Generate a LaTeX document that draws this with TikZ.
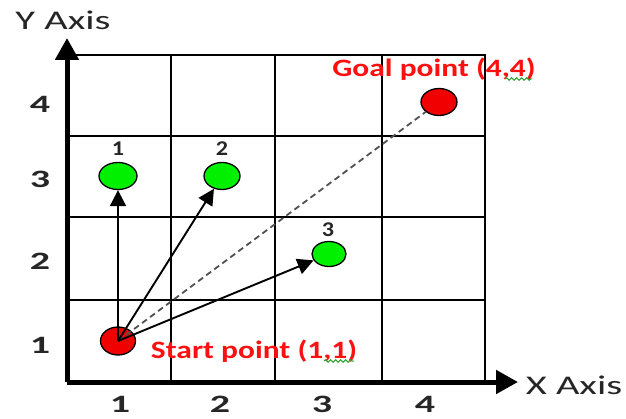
\documentclass[tikz,border=0pt]{standalone}
\usepackage{fontspec}
\setmainfont{Carlito}
\usetikzlibrary{arrows.meta,shapes.geometric,decorations.pathmorphing}
\newcommand{\hstr}[2]{\scalebox{#1}[1]{#2}}
\definecolor{axtxt}{HTML}{262626}
\definecolor{lblred}{HTML}{FF1010}
\definecolor{ptgreen}{HTML}{00F000}
\definecolor{ptred}{HTML}{F00000}
\definecolor{dashgray}{HTML}{505050}
\definecolor{squig}{HTML}{30A030}
\begin{document}
\begin{tikzpicture}[x=1pt,y=-1pt,
  gridline/.style={line width=2.2pt,black},
  axisline/.style={line width=5pt,black,-{Triangle[length=22pt,width=23pt]}},
  axislabel/.style={text=axtxt,inner sep=0pt,font=\fontsize{27}{27}\selectfont},
  ticklabel/.style={text=axtxt,inner sep=0pt,font=\bfseries\fontsize{25}{25}\selectfont},
  smalllabel/.style={text=axtxt,inner sep=0pt,font=\bfseries\fontsize{21}{21}\selectfont},
  redlabel/.style={text=lblred,inner sep=0pt,font=\bfseries\fontsize{25}{25}\selectfont},
  pt/.style={ellipse,draw=black,line width=1.3pt,inner sep=0pt},
  goodpt/.style={pt,fill=ptgreen},
  endpt/.style={pt,fill=ptred},
  movearrow/.style={line width=1.9pt,black,-{Triangle[length=16pt,width=16pt]}},
  straight/.style={line width=1.8pt,dashgray,dash pattern=on 6pt off 4pt},
  squiggle/.style={squig,line width=1pt,decorate,decoration={snake,amplitude=1.3pt,segment length=5pt}}
]
\useasboundingbox (0,0) rectangle (626,419);
% grid
\draw[gridline] (68,55) -- (485,55) -- (485,382);
\foreach \xx in {171,275,382}
  \draw[gridline] (\xx,55) -- (\xx,382);
\foreach \yy in {136,217,300}
  \draw[gridline] (68,\yy) -- (485,\yy);
% axes
\coordinate (origin) at (67,382);
\coordinate (ytip) at (67,38);
\coordinate (xtip) at (518,382);
\draw[axisline] (origin) -- (ytip);
\draw[axisline] (origin) -- (xtip);
\node[axislabel] (ylab) at (63,20) {\hstr{1.5}{Y Axis}};
\node[axislabel] (xlab) at (574,385) {\hstr{1.5}{X Axis}};
% tick labels
\node[ticklabel] (y4) at (40,104) {\hstr{1.6}{4}};
\node[ticklabel] (y3) at (40,179) {\hstr{1.6}{3}};
\node[ticklabel] (y2) at (40,261) {\hstr{1.6}{2}};
\node[ticklabel] (y1) at (40,345) {\hstr{1.6}{1}};
\node[ticklabel] (x1) at (120,404) {\hstr{1.6}{1}};
\node[ticklabel] (x2) at (220,404) {\hstr{1.6}{2}};
\node[ticklabel] (x3) at (322,404) {\hstr{1.6}{3}};
\node[ticklabel] (x4) at (425,404) {\hstr{1.6}{4}};
% points
\node[endpt,minimum width=35pt,minimum height=28pt] (start) at (118,341) {};
\node[endpt,minimum width=36pt,minimum height=27pt] (goal) at (439,102) {};
\node[goodpt,minimum width=38pt,minimum height=27pt] (g1) at (118,176) {};
\node[goodpt,minimum width=36pt,minimum height=27pt] (g2) at (222,176) {};
\node[goodpt,minimum width=34pt,minimum height=25pt] (g3) at (329,254) {};
\node[smalllabel] (n1) at (118,149) {\hstr{1.15}{1}};
\node[smalllabel] (n2) at (222,149) {\hstr{1.15}{2}};
\node[smalllabel] (n3) at (328,230) {\hstr{1.15}{3}};
% connectors
\draw[straight] (start.center) -- (goal);
\draw[movearrow] (start.center) -- (g1.south);
\draw[movearrow] (start.center) -- (g2);
\draw[movearrow] (start.center) -- (g3);
% labels
\node[redlabel] (goallab) at (434,69) {\hstr{1.26}{Goal point (4,4)}};
\node[redlabel] (startlab) at (254,351) {\hstr{1.26}{Start point (1,1)}};
\coordinate (sq1a) at (505,79);
\coordinate (sq1b) at (532,79);
\coordinate (sq2a) at (324,361);
\coordinate (sq2b) at (354,361);
\draw[squiggle] (sq1a) -- (sq1b);
\draw[squiggle] (sq2a) -- (sq2b);
\end{tikzpicture}
\end{document}
